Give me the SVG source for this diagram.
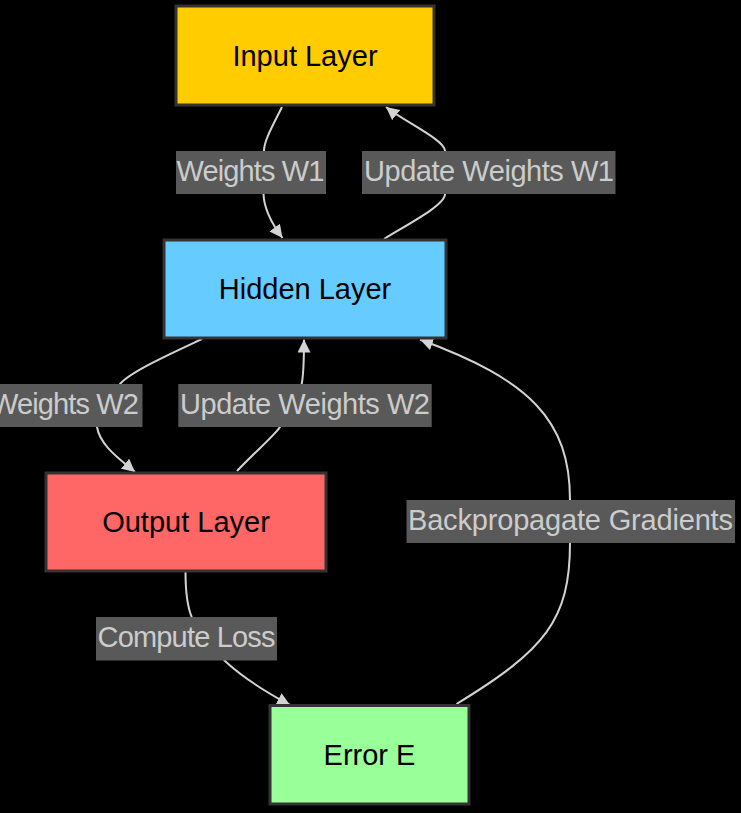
<svg xmlns="http://www.w3.org/2000/svg" width="741" height="813" viewBox="0 0 741 813">
<style>
.edge{fill:none;stroke:#d3d3d3;stroke-width:2}
.lbl rect{fill:#595959}
.lbl text{fill:#cccccc;font-family:"Liberation Sans",Arial,sans-serif;font-size:29px;text-anchor:middle}
.node rect{stroke:#333333;stroke-width:3}
.node text{fill:#000000;font-family:"Liberation Sans",Arial,sans-serif;font-size:29px;text-anchor:middle}
</style>
<defs>
<marker id="arrow" viewBox="0 0 10 10" refX="10" refY="5" markerUnits="userSpaceOnUse" markerWidth="13" markerHeight="13" orient="auto">
<path d="M0,0 L10,5 L0,10 z" fill="#d3d3d3"/>
</marker>
</defs>
<rect x="0" y="0" width="741" height="813" fill="#000000"/>
<g id="connectors">
<path class="edge" marker-end="url(#arrow)" d="M282,107 C272,127 264,141 264,151 L263.5,194 C264,210 272,224 282.5,238"/>
<path class="edge" marker-end="url(#arrow)" d="M384,239 C410,223 445,205 445,194 L445,151 C445,140 405,122 386,107"/>
<path class="edge" marker-end="url(#arrow)" d="M202,339 C170,354 130,372 120,384 L97,427 C100,445 118,458 135,472"/>
<path class="edge" marker-end="url(#arrow)" d="M237,471 C255,452 275,435 280,427 L301.7,384 C304,372 304,355 304,339.5"/>
<path class="edge" marker-end="url(#arrow)" d="M185.5,572 C185.5,595 188,608 191.7,617 L225,661 C240,675 262,690 290,705"/>
<path class="edge" marker-end="url(#arrow)" d="M456.5,704 C545,650 570,620 570,543 L570,500 C570,420 530,380 420,339.5"/>
</g>
<g id="edge-labels">
<g class="lbl" id="label-weights-w1"><rect x="176" y="151" width="150" height="43"/><text x="250.5" y="180.5" textLength="148">Weights W1</text></g>
<g class="lbl" id="label-update-w1"><rect x="362" y="151" width="253.5" height="43"/><text x="489" y="180.5" textLength="250">Update Weights W1</text></g>
<g class="lbl" id="label-weights-w2"><rect x="-7.5" y="384" width="150" height="43"/><text x="65" y="413.5" textLength="148">Weights W2</text></g>
<g class="lbl" id="label-update-w2"><rect x="178.3" y="384" width="253.4" height="43"/><text x="305" y="413.5" textLength="250">Update Weights W2</text></g>
<g class="lbl" id="label-backprop"><rect x="406.5" y="500" width="328.5" height="43"/><text x="570.5" y="529.5" textLength="325">Backpropagate Gradients</text></g>
<g class="lbl" id="label-loss"><rect x="96" y="617" width="181" height="43.5"/><text x="186.5" y="646.5" textLength="178">Compute Loss</text></g>
</g>
<g id="node-input" class="node"><rect x="176" y="6" width="258" height="99" fill="#ffcc00"/><text x="305" y="65.5">Input Layer</text></g>
<g id="node-hidden" class="node"><rect x="164" y="240" width="282" height="98" fill="#66ccff"/><text x="305" y="298.5">Hidden Layer</text></g>
<g id="node-output" class="node"><rect x="46" y="473" width="280" height="98" fill="#ff6666"/><text x="186" y="531.5">Output Layer</text></g>
<g id="node-error" class="node"><rect x="270" y="705.5" width="199" height="98.5" fill="#99ff99"/><text x="369.5" y="764.5">Error E</text></g>
</svg>
